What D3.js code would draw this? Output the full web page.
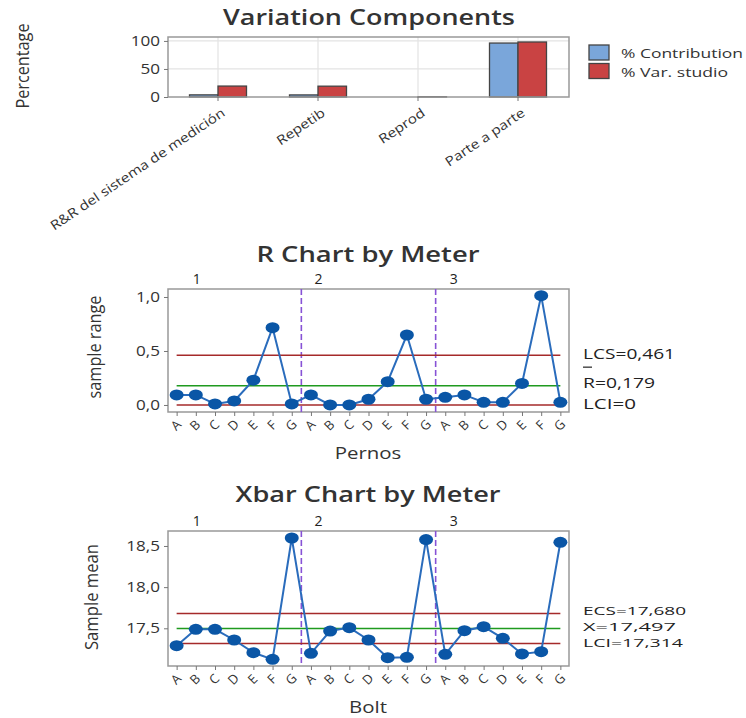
<!DOCTYPE html>
<html>
<head>
<meta charset="utf-8">
<script src="https://cdn.jsdelivr.net/npm/d3@7"></script>
<style>
  html, body { margin: 0; padding: 0; background: #fff; }
  svg { display: block; font-family: "Open Sans", "DejaVu Sans", sans-serif; }
</style>
</head>
<body>
<svg id="chart" width="746" height="718"></svg>
<script>
// ---------- DATA ----------
const components = ["R&R del sistema de medición", "Repetib", "Reprod", "Parte a parte"];
const seriesNames = ["% Contribution", "% Var. studio"];
const pctContribution = [3.8, 3.7, 0.0, 96.2];
const pctStudyVar = [19.5, 19.3, 0.4, 98.1];
const pctTicks = [0, 50, 100];

const meters = ["1", "2", "3"];
const bolts = ["A", "B", "C", "D", "E", "F", "G"];

const rangeMeter1 = [0.093, 0.093, 0.010, 0.037, 0.230, 0.716, 0.010];
const rangeMeter2 = [0.093, 0.000, 0.000, 0.053, 0.216, 0.648, 0.053];
const rangeMeter3 = [0.071, 0.093, 0.025, 0.025, 0.200, 1.012, 0.025];
const rTicks = [0.0, 0.5, 1.0];
const rLimitValues = [0.461, 0.179, 0];
const rLimitLabels = ["LCS=0,461", "R=0,179", "LCI=0"];

const meanMeter1 = [17.289, 17.488, 17.488, 17.358, 17.204, 17.123, 18.597];
const meanMeter2 = [17.196, 17.467, 17.508, 17.358, 17.143, 17.148, 18.578];
const meanMeter3 = [17.184, 17.471, 17.520, 17.378, 17.188, 17.216, 18.545];
const xbarTicks = [17.5, 18.0, 18.5];
const xLimitValues = [17.680, 17.497, 17.314];
const xLimitLabels = ["ECS=17,680", "X=17,497", "LCI=17,314"];

// ---------- HELPERS ----------
const svg = d3.select("#chart");
const TXT = "#333";
const STRETCH = 1.22;
function stretch(sel, k) {
  sel.each(function () {
    const w = this.getComputedTextLength();
    this.setAttribute("textLength", w * (k || STRETCH));
    this.setAttribute("lengthAdjust", "spacingAndGlyphs");
  });
  return sel;
}
function fixedWidth(sel, w) {
  sel.attr("textLength", w).attr("lengthAdjust", "spacingAndGlyphs");
  return sel;
}
const comma = v => d3.format(".1f")(v).replace(".", ",");

// ---------- TOP: VARIATION COMPONENTS ----------
(function () {
  const L = 168, R = 568, T = 37, B = 97;
  const g = svg.append("g");
  const x0 = d3.scaleBand().domain(components).range([L, R]);
  const y = d3.scaleLinear().domain([0, 107]).range([B, T]);
  const barW = 28.5;

  fixedWidth(g.append("text").attr("x", 369).attr("y", 25).attr("text-anchor", "middle")
    .attr("font-size", 21).attr("font-weight", 600).attr("fill", TXT)
    .text("Variation Components"), 292);

  // grid
  g.append("g").selectAll("line").data(components).join("line")
    .attr("x1", d => x0(d) + x0.bandwidth() / 2).attr("x2", d => x0(d) + x0.bandwidth() / 2)
    .attr("y1", T).attr("y2", B).attr("stroke", "#e3e3e3").attr("stroke-width", 1.2);
  g.append("g").selectAll("line").data(pctTicks.filter(d => d > 0)).join("line")
    .attr("x1", L).attr("x2", R + 1).attr("y1", d => y(d)).attr("y2", d => y(d))
    .attr("stroke", "#e3e3e3").attr("stroke-width", 1.2);

  // bars
  const colors = ["#7aa6da", "#c94343"];
  const series = [pctContribution, pctStudyVar];
  series.forEach((vals, si) => {
    g.append("g").selectAll("rect").data(components).join("rect")
      .attr("x", d => x0(d) + x0.bandwidth() / 2 + (si === 0 ? -barW : 0))
      .attr("width", barW)
      .attr("y", (d, i) => y(vals[i]))
      .attr("height", (d, i) => Math.max(0, y(0) - y(vals[i])))
      .attr("fill", colors[si]).attr("stroke", "#444").attr("stroke-width", 1.3);
  });

  // frame
  g.append("rect").attr("x", L).attr("y", T).attr("width", R - L + 1).attr("height", B - T)
    .attr("fill", "none").attr("stroke", "#999").attr("stroke-width", 1.5);

  // y axis
  const ya = g.append("g").attr("transform", `translate(${L},0)`)
    .call(d3.axisLeft(y).tickValues(pctTicks).tickSize(4).tickPadding(4));
  ya.select(".domain").remove();
  ya.selectAll("line").attr("stroke", "#777");
  ya.selectAll("text").attr("font-size", 14).attr("fill", TXT).attr("font-family", "Open Sans");
  stretch(ya.selectAll("text"));

  // x ticks + rotated labels
  const xa = g.append("g").attr("transform", `translate(0,${B})`)
    .call(d3.axisBottom(x0).tickSize(4).tickFormat(""));
  xa.select(".domain").remove();
  xa.selectAll("line").attr("stroke", "#777");
  const lab = g.append("g").selectAll("text").data(components).join("text")
    .attr("transform", d => `translate(${x0(d) + x0.bandwidth() / 2 + 8},${B + 18}) rotate(-34)`)
    .attr("text-anchor", "end").attr("font-size", 13).attr("fill", TXT)
    .text(d => d);
  stretch(lab, 1.18);

  const yl = g.append("text").attr("transform", "translate(29,66) rotate(-90)")
    .attr("text-anchor", "middle").attr("font-size", 19).attr("fill", TXT).text("Percentage");
  fixedWidth(yl, 85);

  // legend
  const lg = g.append("g");
  seriesNames.forEach((s, i) => {
    lg.append("rect").attr("x", 589).attr("y", 45 + i * 18.5).attr("width", 20).attr("height", 15)
      .attr("fill", colors[i]).attr("stroke", "#444").attr("stroke-width", 1.3);
    fixedWidth(lg.append("text").attr("x", 621).attr("y", 58 + i * 18.5)
      .attr("font-size", 13).attr("fill", TXT).text(s), i === 0 ? 122 : 107);
  });
})();

// ---------- CONTROL CHART ----------
function controlChart(opt) {
  const { T, B, title, titleY, titleW, domain, ticks, tickFmt, groups, limits, limitLabels,
          xLabel, xLabelY, yLabel, yLabelPos, yLabelW, bar } = opt;
  const L = 168, R = 569;
  const g = svg.append("g");
  const pts = [];
  groups.forEach((vals, gi) => vals.forEach((v, bi) => pts.push({ gi, bi, v, idx: gi * bolts.length + bi })));
  const n = pts.length;
  const x = d3.scaleLinear().domain([-0.45, n - 1 + 0.45]).range([L, R]);
  const y = d3.scaleLinear().domain(domain).range([B, T]);

  fixedWidth(g.append("text").attr("x", 368).attr("y", titleY).attr("text-anchor", "middle")
    .attr("font-size", 21).attr("font-weight", 600).attr("fill", TXT).text(title), titleW);

  // meter labels
  const meterPos = [1.05, 7.4, 14.45];
  g.append("g").selectAll("text").data(meters).join("text")
    .attr("x", (d, i) => x(meterPos[i])).attr("y", T - 5).attr("text-anchor", "middle")
    .attr("font-size", 14).attr("fill", "#222").text(d => d);

  // frame
  g.append("rect").attr("x", L).attr("y", T).attr("width", R - L).attr("height", B - T)
    .attr("fill", "none").attr("stroke", "#999").attr("stroke-width", 1.5);

  // group separators
  g.append("g").selectAll("line").data(meters.slice(1)).join("line")
    .attr("x1", (d, i) => x((i + 1) * bolts.length - 0.5)).attr("x2", (d, i) => x((i + 1) * bolts.length - 0.5))
    .attr("y1", T).attr("y2", B).attr("stroke", "#8752d6").attr("stroke-width", 1.6)
    .attr("stroke-dasharray", "6,3");

  // limit lines
  const limColors = ["#a52a2a", "#1f9a1f", "#a52a2a"];
  g.append("g").selectAll("line").data(limits).join("line")
    .attr("x1", x(0)).attr("x2", x(n - 1)).attr("y1", d => y(d)).attr("y2", d => y(d))
    .attr("stroke", (d, i) => limColors[i]).attr("stroke-width", 1.5);

  // series line + markers
  g.append("path").datum(pts)
    .attr("d", d3.line().x(d => x(d.idx)).y(d => y(d.v)))
    .attr("fill", "none").attr("stroke", "#2a6cbc").attr("stroke-width", 2);
  g.append("g").selectAll("ellipse").data(pts).join("ellipse")
    .attr("cx", d => x(d.idx)).attr("cy", d => y(d.v)).attr("rx", 7).attr("ry", 5.5)
    .attr("fill", "#0a56a6");

  // y axis
  const ya = g.append("g").attr("transform", `translate(${L},0)`)
    .call(d3.axisLeft(y).tickValues(ticks).tickFormat(tickFmt).tickSize(4).tickPadding(4));
  ya.select(".domain").remove();
  ya.selectAll("line").attr("stroke", "#777");
  ya.selectAll("text").attr("font-size", 14).attr("fill", TXT).attr("font-family", "Open Sans");
  stretch(ya.selectAll("text"));

  // x ticks
  const xa = g.append("g").attr("transform", `translate(0,${B})`)
    .call(d3.axisBottom(x).tickValues(d3.range(n)).tickSize(4).tickFormat(""));
  xa.select(".domain").remove();
  xa.selectAll("line").attr("stroke", "#777");
  g.append("g").selectAll("text").data(pts).join("text")
    .attr("transform", d => `translate(${x(d.idx)},${B + 14}) rotate(-45)`)
    .attr("text-anchor", "middle").attr("dominant-baseline", "middle")
    .attr("font-size", 13).attr("fill", TXT).text(d => bolts[d.bi]);

  // limit labels
  const labW = opt.limitW;
  limitLabels.forEach((t, i) => {
    const ly = y(limits[i]) - 1.5 + (opt.labelShift ? opt.labelShift[i] : 0);
    fixedWidth(g.append("text").attr("x", 583).attr("y", ly).attr("dy", "0.36em")
      .attr("font-size", opt.limitFont).attr("fill", "#222").text(t), labW[i]);
    if (bar && i === 1) {
      g.append("line").attr("x1", 583).attr("x2", 592).attr("y1", ly - 16).attr("y2", ly - 16)
        .attr("stroke", "#222").attr("stroke-width", 1.2);
    }
  });

  // axis labels
  stretch(g.append("text").attr("x", 368).attr("y", xLabelY).attr("text-anchor", "middle")
    .attr("font-size", 17).attr("fill", TXT).text(xLabel), 1.2);
  fixedWidth(g.append("text").attr("transform", `translate(${yLabelPos[0]},${yLabelPos[1]}) rotate(-90)`)
    .attr("text-anchor", "middle").attr("font-size", 19).attr("fill", TXT).text(yLabel), yLabelW);
}

controlChart({
  T: 289, B: 412, title: "R Chart by Meter", titleY: 262, titleW: 223,
  domain: [-0.065, 1.074], ticks: rTicks, tickFmt: comma,
  groups: [rangeMeter1, rangeMeter2, rangeMeter3],
  limits: rLimitValues, limitLabels: rLimitLabels, limitW: [92, 72, 53], labelShift: [0, -1, 0],
  limitFont: 14,
  xLabel: "Pernos", xLabelY: 459, yLabel: "sample range", yLabelPos: [101, 347], yLabelW: 103, bar: true
});

controlChart({
  T: 531, B: 666, title: "Xbar Chart by Meter", titleY: 502, titleW: 265,
  domain: [17.042, 18.682], ticks: xbarTicks, tickFmt: comma,
  groups: [meanMeter1, meanMeter2, meanMeter3],
  limits: xLimitValues, limitLabels: xLimitLabels, limitW: [103, 93, 100], labelShift: [-1.5, -0.5, 1],
  limitFont: 11.5,
  xLabel: "Bolt", xLabelY: 713, yLabel: "Sample mean", yLabelPos: [98, 597], yLabelW: 106, bar: false
});
</script>
</body>
</html>
